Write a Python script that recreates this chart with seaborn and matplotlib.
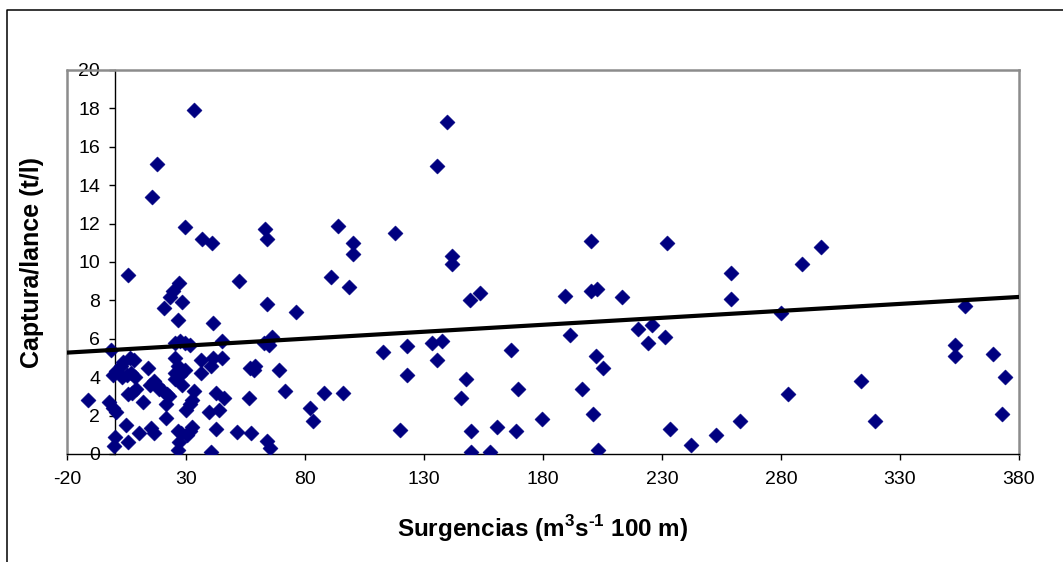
import matplotlib
matplotlib.use("Agg")
import matplotlib.pyplot as plt
from matplotlib.lines import Line2D
import numpy as np
import pandas as pd
import seaborn as sns

# Upwelling index (m3 s-1 per 100 m of coast) and catch per haul (t/l)
surgencias = [
    -11.1, -1.4, -0.8, 0.5, 2.5, 3.6, -2.4, -0.5, 0.7, 0.0, -0.4, 5.6,
    3.0, 5.0, 7.0, 8.5, 6.4, 8.3, 5.5, 7.5, 8.8, 4.9, 5.5, 10.4, 11.8,
    13.9, 15.6, 17.7, 14.8, 16.5, 17.8, 15.5, 16.5, 18.8, 20.2, 22.0,
    20.9, 21.6, 21.6, 22.9, 23.4, 24.5, 26.7, 27.1, 28.5, 29.5, 33.4,
    25.5, 27.5, 29.5, 31.5, 25.5, 26.5, 25.5, 27.5, 29.5, 25.5, 28.5,
    33.4, 26.7, 28.0, 27.0, 26.5, 30.0, 31.5, 32.5, 30.5, 31.5, 32.7,
    36.6, 36.2, 36.2, 39.6, 40.3, 41.0, 41.3, 40.3, 41.5, 42.4, 42.4,
    43.8, 45.2, 45.2, 45.9, 51.4, 52.1, 56.3, 57.4, 57.0, 58.4, 59.1,
    62.6, 63.3, 64.2, 64.2, 64.2, 65.3, 66.0, 65.0, 69.1, 71.4, 76.1,
    82.2, 83.2, 87.9, 91.1, 93.8, 95.9, 98.4, 100.0, 100.0,
    112.9, 117.9, 119.8, 122.8, 122.8, 133.5, 137.6, 135.6, 135.6, 139.7,
    141.8, 141.8, 147.7, 145.7, 149.5, 153.6, 149.7, 149.7, 157.6, 160.6,
    166.6, 169.6, 168.6, 179.6, 189.4, 191.5, 196.5, 200.2, 200.2, 202.6,
    202.3, 205.4, 201.2, 203.3, 213.1, 220.1, 225.9, 224.1, 231.1, 231.9,
    233.2, 242.0, 252.7, 262.8, 259.0, 259.0, 279.9, 282.9, 288.8, 296.8,
    313.5, 319.5, 353.1, 353.1, 357.3, 369.1, 374.3, 373.0,
]
captura = [
    2.8, 5.4, 4.1, 4.3, 4.6, 4.8, 2.7, 2.4, 2.2, 0.9, 0.4, 9.3,
    4.0, 4.1, 4.2, 4.0, 5.0, 4.9, 3.1, 3.2, 3.4, 1.5, 0.6, 1.1, 2.7,
    4.5, 13.4, 15.1, 3.6, 3.8, 3.6, 1.35, 1.1, 3.4, 3.3, 3.1,
    7.6, 2.6, 1.9, 3.0, 8.2, 8.5, 7.0, 8.9, 7.9, 11.8, 17.9,
    5.8, 5.9, 5.8, 5.7, 5.0, 4.6, 4.2, 4.1, 4.4, 3.9, 3.6,
    3.3, 1.2, 1.1, 0.6, 0.2, 2.3, 2.6, 2.8, 1.0, 1.2, 1.4,
    11.2, 4.9, 4.2, 2.2, 0.1, 11.0, 6.8, 4.6, 5.0, 3.2, 1.3,
    2.3, 5.9, 5.0, 2.9, 1.15, 9.0, 2.9, 1.1, 4.5, 4.4, 4.6,
    5.8, 11.7, 11.2, 7.8, 0.7, 0.3, 6.1, 5.7, 4.4, 3.3, 7.4,
    2.4, 1.7, 3.2, 9.2, 11.9, 3.2, 8.7, 11.0, 10.4,
    5.3, 11.5, 1.25, 5.6, 4.1, 5.8, 5.9, 4.9, 15.0, 17.3,
    10.3, 9.9, 3.9, 2.9, 8.0, 8.4, 1.2, 0.1, 0.1, 1.4,
    5.4, 3.4, 1.2, 1.8, 8.25, 6.2, 3.4, 11.1, 8.5, 8.6,
    5.1, 4.5, 2.1, 0.2, 8.2, 6.5, 6.7, 5.8, 6.1, 11.0,
    1.3, 0.45, 1.0, 1.7, 9.45, 8.05, 7.35, 3.1, 9.9, 10.8,
    3.8, 1.7, 5.7, 5.1, 7.7, 5.2, 4.0, 2.1,
]

# Linear trend fitted to the series
trend_intercept = 5.425
trend_slope = 0.00725

x_ticks = list(range(-20, 381, 50))
y_ticks = list(range(0, 21, 2))
x_label = "Surgencias (m$^{\\mathbf{3}}$s$^{\\mathbf{\u2010 1}}$ 100 m)"
y_label = "Captura/lance (t/l)"

sns.set_theme(style="white")
plt.rcParams["font.family"] = ["Liberation Sans", "DejaVu Sans"]
plt.rcParams["axes.unicode_minus"] = False
plt.rcParams["mathtext.fontset"] = "custom"
plt.rcParams["mathtext.rm"] = "Liberation Sans:bold"
plt.rcParams["mathtext.bf"] = "Liberation Sans:bold"

df = pd.DataFrame({"surgencias": surgencias, "captura": captura})

W, H = 1063, 562
fig = plt.figure(figsize=(W / 100, H / 100), dpi=100)
fig.patch.set_facecolor("white")
ax = fig.add_axes([67 / W, 1 - 454 / H, (1019 - 67) / W, (454 - 70) / H])

navy = "#000080"
sns.scatterplot(data=df, x="surgencias", y="captura", marker="D", s=60,
                color=navy, edgecolor=navy, linewidth=0.3, ax=ax, zorder=3,
                legend=False)

trend_x = np.array([x_ticks[0], x_ticks[-1]], dtype=float)
trend_df = pd.DataFrame({"x": trend_x, "y": trend_intercept + trend_slope * trend_x})
sns.lineplot(data=trend_df, x="x", y="y", color="black", linewidth=3.0,
             ax=ax, zorder=4)

ax.set_xlim(x_ticks[0], x_ticks[-1])
ax.set_ylim(0, 20)
ax.set_xticks(x_ticks)
ax.set_yticks(y_ticks)
ax.set_xlabel("")
ax.set_ylabel("")

# Plot-area frame in grey; value axes in black crossing at x = 0
grey = "#8c8c8c"
for side in ("top", "right"):
    ax.spines[side].set_color(grey)
    ax.spines[side].set_linewidth(1.8)
ax.spines["bottom"].set_color("black")
ax.spines["bottom"].set_linewidth(1.0)
ax.spines["left"].set_position(("data", 0))
ax.spines["left"].set_color("black")
ax.spines["left"].set_linewidth(1.0)
ax.plot([0, 0], [0, 1], transform=ax.transAxes, color=grey, linewidth=1.8,
        clip_on=False, zorder=1)

ax.tick_params(axis="both", which="major", direction="out", length=4.5,
               width=1.0, color="black", labelsize=14, labelcolor="black")
ax.tick_params(axis="x", pad=8, bottom=True)
ax.tick_params(axis="y", pad=6, left=True)

fig.text(542.5 / W, 1 - 537 / H, x_label, ha="center", va="baseline",
         fontsize=17.5, fontweight="bold", color="black")
fig.text(32.5 / W, 1 - 263 / H, y_label, ha="center", va="center",
         rotation=90, fontsize=18, fontweight="bold", color="black")

# Chart-area border
fig.add_artist(Line2D([7 / W, 7 / W, 1.0], [0.0, 1 - 10 / H, 1 - 10 / H],
                      transform=fig.transFigure, color="black", linewidth=1.1))

fig.savefig("out.png", dpi=100, facecolor="white")
